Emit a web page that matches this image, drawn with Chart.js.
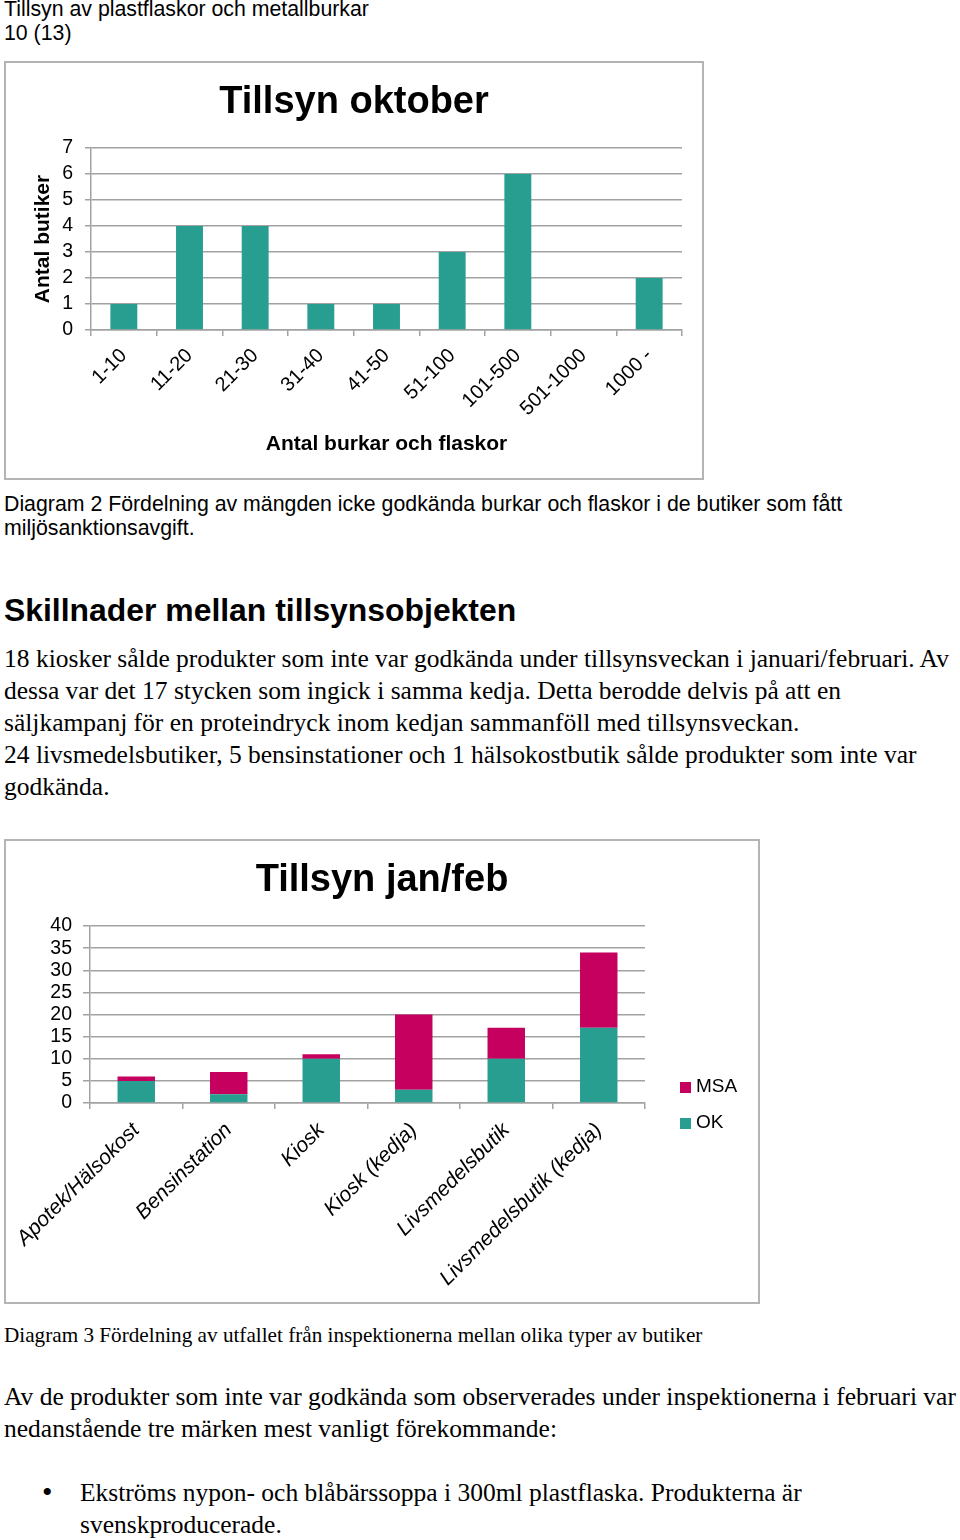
<!DOCTYPE html>
<html>
<head>
<meta charset="utf-8">
<script src="https://cdn.jsdelivr.net/npm/chart.js@4"></script>
<style>
  body { margin: 0; background: #fff; width: 960px; height: 1540px; position: relative; overflow: hidden; }
  .t { position: absolute; left: 4px; white-space: nowrap; color: #000; }
  .sans { font-family: "Liberation Sans", Arial, sans-serif; }
  .serif { font-family: "Liberation Serif", "Times New Roman", serif; }
  .frame { position: absolute; border: 2px solid #b4b4b4; }
  .frame canvas { display: block; }
</style>
</head>
<body>
<div class="t sans" style="top:-3px; font-size:21.3px; line-height:24px;">Tillsyn av plastflaskor och metallburkar<br>10 (13)</div>

<div class="frame" style="left:4px; top:61px; width:696px; height:415px;">
  <canvas id="oktChart" width="696" height="415"></canvas>
</div>

<div class="t sans" style="top:492px; font-size:21.3px; line-height:24px;">Diagram 2 Fördelning av mängden icke godkända burkar och flaskor i de butiker som fått<br>miljösanktionsavgift.</div>

<div class="t sans" style="top:590px; font-size:31.9px; line-height:40px; font-weight:bold;">Skillnader mellan tillsynsobjekten</div>

<div class="t serif" style="top:643px; font-size:25.5px; line-height:32px;">18 kiosker sålde produkter som inte var godkända under tillsynsveckan i januari/februari. Av<br>dessa var det 17 stycken som ingick i samma kedja. Detta berodde delvis på att en<br>säljkampanj för en proteindryck inom kedjan sammanföll med tillsynsveckan.<br>24 livsmedelsbutiker, 5 bensinstationer och 1 hälsokostbutik sålde produkter som inte var<br>godkända.</div>

<div class="frame" style="left:4px; top:839px; width:752px; height:461px;">
  <canvas id="janChart" width="752" height="461"></canvas>
</div>

<div class="t serif" style="top:1323px; font-size:21.2px; line-height:24px;">Diagram 3 Fördelning av utfallet från inspektionerna mellan olika typer av butiker</div>

<div class="t serif" style="top:1381px; font-size:25.5px; line-height:32px;">Av de produkter som inte var godkända som observerades under inspektionerna i februari var<br>nedanstående tre märken mest vanligt förekommande:</div>

<div class="t serif" style="top:1476px; left:42px; font-size:30px; line-height:32px;">•</div>
<div class="t serif" style="top:1477px; left:80px; font-size:25.5px; line-height:32px;">Ekströms nypon- och blåbärssoppa i 300ml plastflaska. Produkterna är<br>svenskproducerade.</div>

<script>
// Tillsyn oktober
const oktCategories = ["1-10", "11-20", "21-30", "31-40", "41-50", "51-100", "101-500", "501-1000", "1000 -"];
const oktValues = [1, 4, 4, 1, 1, 3, 6, 0, 2];

// Tillsyn jan/feb
const janCategories = ["Apotek/Hälsokost", "Bensinstation", "Kiosk", "Kiosk (kedja)", "Livsmedelsbutik", "Livsmedelsbutik (kedja)"];
const janOK = [5, 2, 10, 3, 10, 17];
const janMSA = [1, 5, 1, 17, 7, 17];

const TEAL = "#289e91";
const MAGENTA = "#c6005e";
const GRID = "#a2a2a2";

Chart.defaults.font.family = '"Liberation Sans", Arial, sans-serif';
Chart.defaults.color = "#000";

// legend to the right of the plot, MSA above OK
const sideLegend = {
    id: "sideLegend",
    afterDraw(chart) {
        const ctx = chart.ctx;
        const area = chart.chartArea;
        const items = chart.data.datasets.slice().reverse();
        ctx.save();
        ctx.font = '19px "Liberation Sans", Arial, sans-serif';
        ctx.textBaseline = "middle";
        items.forEach((ds, i) => {
            const y = area.bottom - 16 + i * 36;
            ctx.fillStyle = ds.backgroundColor;
            ctx.fillRect(area.right + 35, y - 5, 11, 11);
            ctx.fillStyle = "#000";
            ctx.fillText(ds.label, area.right + 51, y);
        });
        ctx.restore();
    }
};

new Chart(document.getElementById("oktChart").getContext("2d"), {
    type: "bar",
    data: {
        labels: oktCategories,
        datasets: [{
            label: "Antal butiker",
            data: oktValues,
            backgroundColor: TEAL,
            barPercentage: 0.41,
            categoryPercentage: 1
        }]
    },
    options: {
        responsive: false,
        animation: false,
        devicePixelRatio: 1,
        layout: { padding: { left: 20, right: 20, top: 0, bottom: 0 } },
        plugins: {
            legend: { display: false },
            tooltip: { enabled: false },
            title: {
                display: true,
                text: "Tillsyn oktober",
                font: { size: 38, weight: "bold" },
                padding: { top: 17.2, bottom: 22.2 }
            }
        },
        scales: {
            x: {
                grid: { drawOnChartArea: false, color: GRID, lineWidth: 1.5, tickLength: 6 },
                border: { color: GRID, width: 1.5 },
                ticks: { font: { size: 20 }, minRotation: 45, maxRotation: 45, autoSkip: false, padding: 8 },
                title: {
                    display: true,
                    text: "Antal burkar och flaskor",
                    font: { size: 21, weight: "bold" },
                    padding: { top: 0, bottom: 21.4 }
                },
                afterFit(scale) {
                    scale.height = 148;
                    scale.paddingLeft = 0;
                    scale.paddingRight = 0;
                }
            },
            y: {
                min: 0,
                max: 7,
                ticks: { stepSize: 1, autoSkip: false, font: { size: 19.5 }, padding: 12 },
                grid: { color: GRID, lineWidth: 1.5, tickLength: 6 },
                border: { color: GRID, width: 1.5 },
                title: {
                    display: true,
                    text: "Antal butiker",
                    font: { size: 21, weight: "bold" },
                    padding: { top: 4.4, bottom: 0 }
                },
                afterFit(scale) {
                    scale.width = 65;
                }
            }
        }
    }
});

new Chart(document.getElementById("janChart").getContext("2d"), {
    type: "bar",
    data: {
        labels: janCategories,
        datasets: [
            { label: "OK", data: janOK, backgroundColor: TEAL, barPercentage: 0.405, categoryPercentage: 1 },
            { label: "MSA", data: janMSA, backgroundColor: MAGENTA, barPercentage: 0.405, categoryPercentage: 1 }
        ]
    },
    options: {
        responsive: false,
        animation: false,
        devicePixelRatio: 1,
        layout: { padding: 0 },
        plugins: {
            legend: { display: false },
            tooltip: { enabled: false },
            title: {
                display: true,
                text: "Tillsyn jan/feb",
                font: { size: 38, weight: "bold" },
                padding: { top: 17.2, bottom: 22.2 }
            }
        },
        scales: {
            x: {
                stacked: true,
                grid: { drawOnChartArea: false, color: GRID, lineWidth: 1.5, tickLength: 6 },
                border: { color: GRID, width: 1.5 },
                ticks: { font: { size: 21, style: "italic" }, minRotation: 45, maxRotation: 45, autoSkip: false, padding: 9 },
                afterFit(scale) {
                    scale.height = 199;
                    scale.paddingLeft = 0;
                    scale.paddingRight = 0;
                }
            },
            y: {
                stacked: true,
                min: 0,
                max: 40,
                ticks: { stepSize: 5, autoSkip: false, font: { size: 19.5 }, padding: 11 },
                grid: { color: GRID, lineWidth: 1.5, tickLength: 7 },
                border: { color: GRID, width: 1.5 },
                afterFit(scale) {
                    scale.width = 84;
                }
            },
            // empty right-hand strip that holds the legend
            legendSpace: {
                position: "right",
                grid: { display: false },
                border: { display: false },
                ticks: { display: false },
                afterFit(scale) {
                    scale.width = 113;
                }
            }
        }
    },
    plugins: [sideLegend]
});
</script>
</body>
</html>
